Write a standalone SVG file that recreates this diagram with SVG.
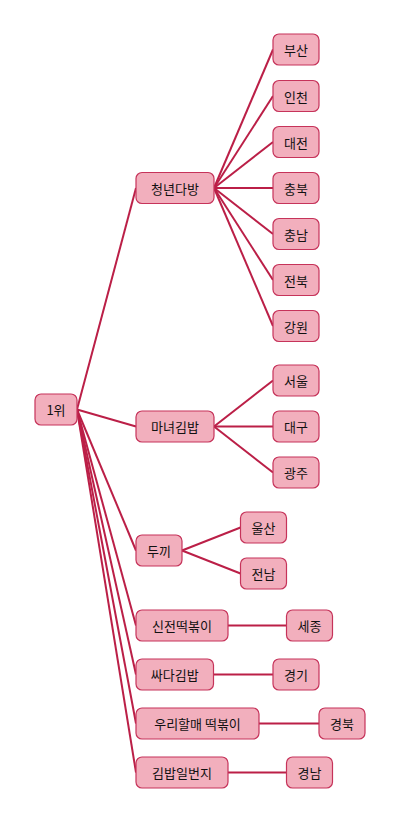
<svg xmlns="http://www.w3.org/2000/svg" width="400" height="823" viewBox="0 0 400 823">
<style>
.n rect{fill:#f2afbd;stroke:#c6335a;stroke-width:1.2}
.n text{font-family:"Noto Sans CJK KR","Noto Sans",sans-serif;font-size:13px;fill:#111;text-anchor:middle;dominant-baseline:central}
#edges line{stroke:#bb1f47;stroke-width:2}
</style>
<rect width="400" height="823" fill="#fff"/>
<g id="edges">
<line x1="77" y1="409.5" x2="136" y2="188"/>
<line x1="77" y1="409.5" x2="136" y2="426.5"/>
<line x1="77" y1="409.5" x2="136" y2="550.5"/>
<line x1="77" y1="409.5" x2="136" y2="625.5"/>
<line x1="77" y1="409.5" x2="136" y2="674.5"/>
<line x1="77" y1="409.5" x2="136" y2="723.5"/>
<line x1="77" y1="409.5" x2="136" y2="772.5"/>
<line x1="214" y1="188" x2="273" y2="49.5"/>
<line x1="214" y1="188" x2="273" y2="96"/>
<line x1="214" y1="188" x2="273" y2="142"/>
<line x1="214" y1="188" x2="273" y2="188"/>
<line x1="214" y1="188" x2="273" y2="234"/>
<line x1="214" y1="188" x2="273" y2="280"/>
<line x1="214" y1="188" x2="273" y2="326"/>
<line x1="214" y1="426.5" x2="273" y2="380.5"/>
<line x1="214" y1="426.5" x2="273" y2="426.5"/>
<line x1="214" y1="426.5" x2="273" y2="472.5"/>
<line x1="182" y1="550.5" x2="240.5" y2="527.5"/>
<line x1="182" y1="550.5" x2="240.5" y2="573.5"/>
<line x1="228" y1="625.5" x2="286.5" y2="625.5"/>
<line x1="213.5" y1="674.5" x2="273" y2="674.5"/>
<line x1="259" y1="723.5" x2="319" y2="723.5"/>
<line x1="228" y1="772.5" x2="286.5" y2="772.5"/>
</g>
<g id="root" class="n"><rect x="35" y="394" width="42" height="31" rx="6"/><text x="56" y="409.5">1위</text></g>
<g id="n1" class="n"><rect x="136" y="172.5" width="78" height="31" rx="6"/><text x="175" y="188">청년다방</text></g>
<g id="n1a" class="n"><rect x="273" y="34" width="46" height="31" rx="6"/><text x="296" y="49.5">부산</text></g>
<g id="n1b" class="n"><rect x="273" y="80.5" width="46" height="31" rx="6"/><text x="296" y="96">인천</text></g>
<g id="n1c" class="n"><rect x="273" y="126.5" width="46" height="31" rx="6"/><text x="296" y="142">대전</text></g>
<g id="n1d" class="n"><rect x="273" y="172.5" width="46" height="31" rx="6"/><text x="296" y="188">충북</text></g>
<g id="n1e" class="n"><rect x="273" y="218.5" width="46" height="31" rx="6"/><text x="296" y="234">충남</text></g>
<g id="n1f" class="n"><rect x="273" y="264.5" width="46" height="31" rx="6"/><text x="296" y="280">전북</text></g>
<g id="n1g" class="n"><rect x="273" y="310.5" width="46" height="31" rx="6"/><text x="296" y="326">강원</text></g>
<g id="n2" class="n"><rect x="136" y="411" width="78" height="31" rx="6"/><text x="175" y="426.5">마녀김밥</text></g>
<g id="n2a" class="n"><rect x="273" y="365" width="46" height="31" rx="6"/><text x="296" y="380.5">서울</text></g>
<g id="n2b" class="n"><rect x="273" y="411" width="46" height="31" rx="6"/><text x="296" y="426.5">대구</text></g>
<g id="n2c" class="n"><rect x="273" y="457" width="46" height="31" rx="6"/><text x="296" y="472.5">광주</text></g>
<g id="n3" class="n"><rect x="136" y="535" width="46" height="31" rx="6"/><text x="159" y="550.5">두끼</text></g>
<g id="n3a" class="n"><rect x="240.5" y="512" width="46" height="31" rx="6"/><text x="263.5" y="527.5">울산</text></g>
<g id="n3b" class="n"><rect x="240.5" y="558" width="46" height="31" rx="6"/><text x="263.5" y="573.5">전남</text></g>
<g id="n4" class="n"><rect x="136" y="610" width="92" height="31" rx="6"/><text x="182" y="625.5">신전떡볶이</text></g>
<g id="n4a" class="n"><rect x="286.5" y="610" width="46" height="31" rx="6"/><text x="309.5" y="625.5">세종</text></g>
<g id="n5" class="n"><rect x="136" y="659" width="77.5" height="31" rx="6"/><text x="174.75" y="674.5">싸다김밥</text></g>
<g id="n5a" class="n"><rect x="273" y="659" width="46" height="31" rx="6"/><text x="296" y="674.5">경기</text></g>
<g id="n6" class="n"><rect x="136" y="708" width="123" height="31" rx="6"/><text x="197.5" y="723.5">우리할매 떡볶이</text></g>
<g id="n6a" class="n"><rect x="319" y="708" width="46" height="31" rx="6"/><text x="342" y="723.5">경북</text></g>
<g id="n7" class="n"><rect x="136" y="757" width="92" height="31" rx="6"/><text x="182" y="772.5">김밥일번지</text></g>
<g id="n7a" class="n"><rect x="286.5" y="757" width="46" height="31" rx="6"/><text x="309.5" y="772.5">경남</text></g>
</svg>
